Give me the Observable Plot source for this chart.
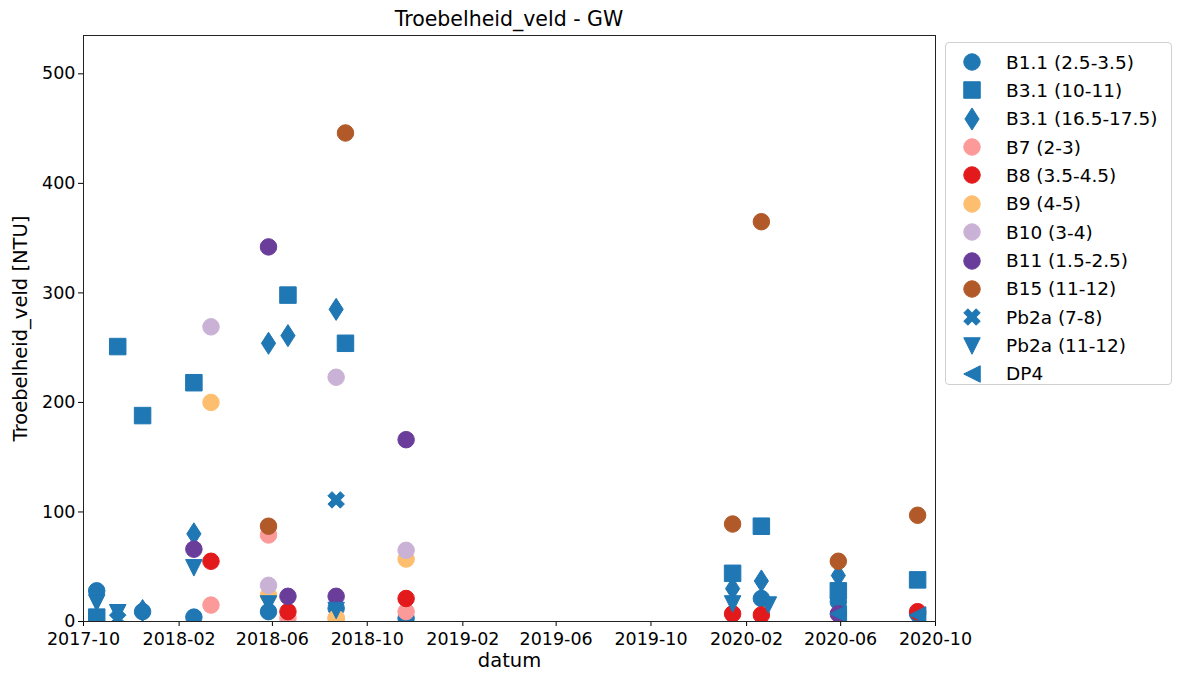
<!DOCTYPE html>
<html><head><meta charset="utf-8">
<script src="https://cdn.jsdelivr.net/npm/d3@7"></script>
<script src="https://cdn.jsdelivr.net/npm/@observablehq/plot@0.6"></script>
<style>
body{margin:0;background:#fff;font-family:"DejaVu Sans",sans-serif;}
#wrap{position:relative;width:1178px;height:673px;overflow:hidden;}
#title{position:absolute;left:83px;width:852px;top:0;height:30px;text-align:center;font-size:20.5px;line-height:39px;color:#000;white-space:nowrap;}
#chart{position:absolute;left:0;top:30px;}
#legend{position:absolute;left:945px;top:42px;width:227px;height:343px;border:1px solid #d0d0d0;border-radius:4px;box-sizing:border-box;background:#fff;}
.row{position:absolute;left:0;height:28px;display:flex;align-items:center;white-space:nowrap;font-size:18.5px;color:#000;}
.row svg{margin-left:11px;}
.row span{margin-left:19px;}
</style></head>
<body>
<div id="wrap">
  <div id="title">Troebelheid_veld - GW</div>
  <div id="chart"></div>
  <div id="legend"></div>
</div>
<script>
// ---- data ----
const seriesNames = ["B1.1 (2.5-3.5)","B3.1 (10-11)","B3.1 (16.5-17.5)","B7 (2-3)","B8 (3.5-4.5)","B9 (4-5)","B10 (3-4)","B11 (1.5-2.5)","B15 (11-12)","Pb2a (7-8)","Pb2a (11-12)","DP4"];

const b1_1 = [["2017-10-18",28],["2017-12-16",9],["2018-02-20",4],["2018-05-27",9],["2018-08-22",12],["2018-11-20",3],["2020-02-20",21],["2020-05-29",18],["2020-09-08",7]];
const b3_1_10 = [["2017-10-18",4],["2017-11-14",251],["2017-12-16",188],["2018-02-20",218],["2018-06-21",298],["2018-09-03",254],["2020-01-14",44],["2020-02-20",87],["2020-05-29",28],["2020-09-08",38]];
const b3_1_16 = [["2017-12-16",10],["2018-02-20",80],["2018-05-27",254],["2018-06-21",261],["2018-08-22",285],["2020-01-14",30],["2020-02-20",37],["2020-05-29",42]];
const b7 = [["2018-03-14",15],["2018-05-27",79],["2018-06-21",3],["2018-08-22",3],["2018-11-20",9]];
const b8 = [["2018-03-14",55],["2018-06-21",9],["2018-11-20",21],["2020-01-14",7],["2020-02-20",6],["2020-09-08",9]];
const b9 = [["2018-03-14",200],["2018-05-27",24],["2018-08-22",3],["2018-11-20",57]];
const b10 = [["2018-03-14",269],["2018-05-27",33],["2018-08-22",223],["2018-11-20",65]];
const b11 = [["2018-02-20",66],["2018-05-27",342],["2018-06-21",23],["2018-08-22",23],["2018-11-20",166],["2020-05-29",7]];
const b15 = [["2018-05-27",87],["2018-09-03",446],["2020-01-14",89],["2020-02-20",365],["2020-05-29",55],["2020-09-08",97]];
const pb2a_7 = [["2017-11-14",2],["2018-08-22",111]];
const pb2a_11 = [["2017-10-18",17],["2017-11-14",8],["2018-02-20",49],["2018-05-27",16],["2018-08-22",10],["2020-01-14",16],["2020-02-29",15]];
const dp4 = [["2020-05-29",7],["2020-09-08",6]];

const seriesData = [b1_1,b3_1_10,b3_1_16,b7,b8,b9,b10,b11,b15,pb2a_7,pb2a_11,dp4];

const xTickLabels = ["2017-10","2018-02","2018-06","2018-10","2019-02","2019-06","2019-10","2020-02","2020-06","2020-10"];
const yTicks = [0,100,200,300,400,500];

// ---- styles ----
const seriesColors = ["#1f77b4","#1f77b4","#1f77b4","#fb9a99","#e31a1c","#fdbf6f","#cab2d6","#6a3d9a","#b15928","#1f77b4","#1f77b4","#1f77b4"];
const seriesShapes = ["circle","square","thindiamond","circle","circle","circle","circle","circle","circle","xfilled","tridown","trileft"];
const R = 8.25;

function msize(size){ return 2*Math.sqrt(size/Math.PI); }
const shapes = {
  circle: {draw(c,s){const r=msize(s)/2; c.moveTo(r,0); c.arc(0,0,r,0,2*Math.PI); c.closePath();}},
  square: {draw(c,s){const h=msize(s)/2; c.moveTo(-h,-h); c.lineTo(h,-h); c.lineTo(h,h); c.lineTo(-h,h); c.closePath();}},
  thindiamond: {draw(c,s){const m=msize(s); const h=0.67*m, w=0.43*m; c.moveTo(0,-h); c.lineTo(w,0); c.lineTo(0,h); c.lineTo(-w,0); c.closePath();}},
  xfilled: {draw(c,s){const m=msize(s); const pts=[[-0.25,-0.5],[0,-0.25],[0.25,-0.5],[0.5,-0.25],[0.25,0],[0.5,0.25],[0.25,0.5],[0,0.25],[-0.25,0.5],[-0.5,0.25],[-0.25,0],[-0.5,-0.25]];
    pts.forEach((p,i)=>{ i? c.lineTo(p[0]*m,p[1]*m) : c.moveTo(p[0]*m,p[1]*m); }); c.closePath();}},
  tridown: {draw(c,s){const h=msize(s)/2; c.moveTo(-h,-h); c.lineTo(h,-h); c.lineTo(0,h); c.closePath();}},
  trileft: {draw(c,s){const h=msize(s)/2; c.moveTo(-h,0); c.lineTo(h,-h); c.lineTo(h,h); c.closePath();}}
};

const xTicks = xTickLabels.map(s => new Date(s + "-01"));

const dots = seriesData.map((arr,i) => Plot.dot(arr, {
  x: d => new Date(d[0]), y: d => d[1],
  symbol: shapes[seriesShapes[i]], r: R,
  fill: seriesColors[i], stroke: seriesColors[i], strokeWidth: 1, clip: true
}));

const chart = Plot.plot({
  width: 1178, height: 643,
  marginTop: 5, marginBottom: 52, marginLeft: 83, marginRight: 243,
  style: {fontFamily: "DejaVu Sans", fontSize: "17.5px", color: "#000", background: "transparent", overflow: "visible"},
  x: {type: "utc", domain: [xTicks[0], xTicks[xTicks.length-1]], ticks: xTicks, tickFormat: d3.utcFormat("%Y-%m"), tickSize: 5, tickPadding: 6, label: null},
  y: {domain: [0, 535], ticks: yTicks, tickSize: 5, tickPadding: 3, label: null},
  marks: [
    ...dots,
    Plot.frame({stroke: "#222", strokeWidth: 1}),
    Plot.text(["Troebelheid_veld [NTU]"], {text: d => d, frameAnchor: "left", textAnchor: "middle", rotate: -90, dx: -63, fontSize: 19.5}),
    Plot.text(["datum"], {text: d => d, frameAnchor: "bottom", textAnchor: "middle", dy: 45, fontSize: 19.5})
  ]
});
document.getElementById("chart").appendChild(chart);

// ---- legend ----
const legend = document.getElementById("legend");
seriesNames.forEach((name,i) => {
  const p = d3.path(); shapes[seriesShapes[i]].draw(p, Math.PI*R*R);
  const row = document.createElement("div");
  row.className = "row";
  row.style.top = (20 + i*28.36 - 14 - 1) + "px";
  row.innerHTML = `<svg width="30" height="28" viewBox="-15 -14 30 28"><path d="${p.toString()}" fill="${seriesColors[i]}" stroke="${seriesColors[i]}" stroke-width="1"/></svg><span>${name}</span>`;
  legend.appendChild(row);
});
</script>
</body></html>
